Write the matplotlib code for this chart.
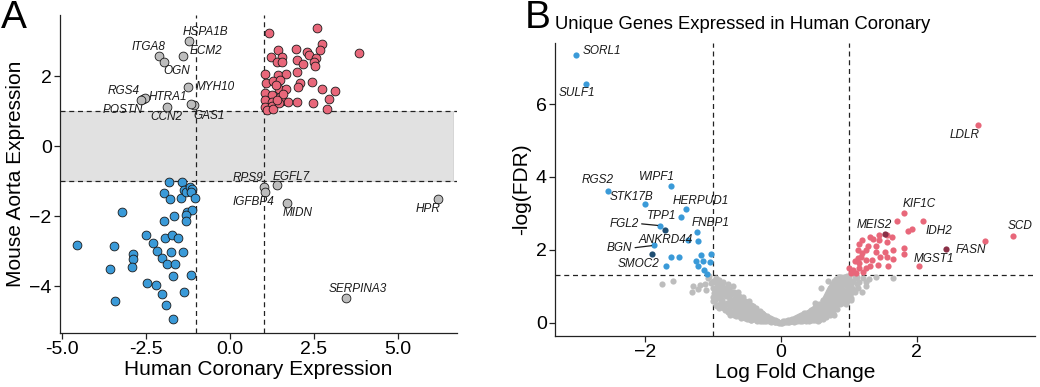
import matplotlib
matplotlib.use("Agg")
import matplotlib.pyplot as plt

plt.rcParams['font.family'] = ['Liberation Sans', 'DejaVu Sans']

# ---------------- Panel A data ----------------
a_blue_x = [-4.54, -3.46, -3.58, -3.41, -3.22, -2.90, -2.90, -2.92, -2.50, -2.30, -2.16,
            -2.46, -2.19, -2.01, -1.88, -2.01, -1.90, -1.70, -1.96, -1.94, -1.73, -1.55,
            -1.76, -1.39, -1.64, -1.71, -1.38, -1.15, -1.95, -1.79, -1.81, -1.68, -1.46,
            -1.42, -1.37, -1.32, -1.19, -1.14, -1.17, -1.05, -1.29, -1.13, -1.31, -1.32]
a_blue_y = [-2.84, -2.86, -3.51, -4.42, -1.89, -3.09, -3.22, -3.45, -2.55, -2.76, -3.01,
            -3.90, -3.97, -3.20, -3.36, -4.24, -4.53, -4.94, -2.13, -2.62, -2.54, -2.62,
            -3.02, -3.02, -3.36, -3.70, -4.17, -3.68, -1.33, -1.50, -1.03, -2.00, -1.47,
            -1.03, -1.26, -1.32, -1.16, -1.23, -1.30, -1.47, -1.87, -1.82, -1.98, -2.15]

a_red_x = [1.16, 2.60, 3.83, 1.42, 1.21, 1.54, 1.40, 1.55, 1.98, 2.30, 2.35, 2.74, 2.67,
           2.56, 2.50, 2.52, 2.00, 2.19, 1.03, 1.42, 1.67, 2.01, 1.07, 1.29, 1.49, 2.08,
           2.43, 2.02, 1.45, 1.67, 2.73, 3.13, 1.03, 1.26, 1.49, 2.94, 1.04, 1.25, 1.54,
           1.73, 2.01, 2.46, 1.03, 1.26, 1.11, 1.29, 1.46, 2.88, 1.37, 1.59, 1.39]
a_red_y = [3.22, 3.36, 2.67, 2.74, 2.55, 2.55, 2.40, 2.41, 2.78, 2.68, 2.61, 2.91, 2.74,
           2.52, 2.39, 2.29, 2.46, 2.35, 2.06, 2.02, 2.06, 2.11, 1.79, 1.86, 1.89, 1.81,
           1.84, 1.69, 1.64, 1.62, 1.62, 1.58, 1.52, 1.46, 1.41, 1.34, 1.31, 1.27, 1.29,
           1.26, 1.27, 1.24, 1.12, 1.15, 1.03, 1.05, 1.22, 1.06, 1.74, 1.50, 1.31]

a_grey_genes = ['HSPA1B', 'ITGA8', 'ECM2', 'OGN', 'MYH10', 'RGS4', 'HTRA1', 'POSTN',
                'CCN2', 'GAS1', '', 'RPS9', 'EGFL7', 'IGFBP4', 'MIDN', 'HPR', 'SERPINA3']
a_grey_x = [-1.22, -2.10, -1.39, -1.97, -1.24, -2.58, -2.52, -2.65,
            -1.86, -1.07, -1.17, 1.00, 1.40, 1.04, 1.69, 6.20, 3.46]
a_grey_y = [3.01, 2.58, 2.58, 2.41, 1.68, 1.33, 1.36, 1.31,
            1.12, 1.16, 1.20, -1.16, -1.11, -1.30, -1.62, -1.51, -4.34]

a_x_ticks = [-5.0, -2.5, 0.0, 2.5, 5.0]
a_y_ticks = [-4, -2, 0, 2]

# ---------------- Panel B data ----------------
b_blue_genes = ['SORL1', 'SULF1', 'RGS2', 'STK17B', 'WIPF1', 'HERPUD1', 'TPP1', 'FGL2',
                'FNBP1', 'ANKRD44', 'BGN', '', '', '', '', '', '', '', '', '', '', '', '']
b_blue_x = [-3.01, -2.86, -2.54, -1.99, -1.62, -1.39, -1.47, -1.77, -1.23, -1.36, -1.86,
            -1.22, -1.68, -1.61, -1.50, -1.24, -1.17, -1.15, -1.03, -1.04, -1.21, -1.13, -1.08]
b_blue_y = [7.35, 6.56, 3.62, 3.25, 3.76, 3.13, 2.90, 2.66, 2.48, 2.26, 2.12,
            2.25, 1.56, 1.79, 1.79, 1.70, 1.85, 1.68, 1.89, 1.67, 1.54, 1.43, 1.34]

b_darkblue_genes = ['', 'SMOC2']
b_darkblue_x = [-1.70, -1.89]
b_darkblue_y = [2.55, 1.87]

b_red_genes = ['LDLR', 'KIF1C', '', 'IDH2', '', '', 'SCD', 'FASN', '']
b_red_x = [2.90, 1.81, 1.71, 2.10, 1.88, 1.94, 3.42, 3.00, 2.04]
b_red_y = [5.42, 3.00, 2.80, 2.80, 2.52, 2.57, 2.39, 2.24, 1.54]
b_red_cluster_x = [1.15, 1.20, 1.31, 1.36, 1.44, 1.44, 1.56, 1.64, 1.56, 1.65, 1.82, 1.82,
                   1.25, 1.14, 1.40, 1.54, 1.14, 1.18, 1.26, 1.35, 1.46, 1.56, 1.65, 1.09,
                   1.01, 1.06, 1.16, 1.26, 1.43, 1.58, 1.04, 1.11, 1.21, 1.16, 1.31, 1.28,
                   1.41, 1.19]
b_red_cluster_y = [2.16, 2.27, 2.35, 2.29, 2.40, 2.27, 2.41, 2.35, 2.20, 2.00, 2.05, 1.89,
                   2.00, 2.00, 1.95, 1.95, 1.76, 1.80, 1.72, 1.72, 1.81, 1.81, 1.74, 1.68,
                   1.49, 1.45, 1.49, 1.49, 1.59, 1.54, 1.36, 1.36, 1.40, 1.63, 1.54, 2.09,
                   2.09, 1.91]

b_darkred_genes = ['MEIS2', 'MGST1']
b_darkred_x = [1.54, 2.44]
b_darkred_y = [2.44, 2.02]

# non-significant genes (x = log fold change, y = -log FDR), read off the cloud
b_grey_points = [
    (-1.75, 1.05), (-1.58, 1.15), (-1.31, 0.83), (-1.29, 0.99), (-1.22, 0.92), (-1.19, 1.04),
    (-1.12, 1.05), (-1.10, 0.90), (-1.07, 1.22), (-1.05, 1.28), (-1.02, 1.08), (-1.00, 0.58),
    (-0.98, 0.80), (-0.95, 1.22), (-0.95, 0.49), (-0.95, 0.95), (-0.92, 0.70), (-0.92, 1.05),
    (-0.90, 1.17), (-0.90, 0.40), (-0.88, 0.60), (-0.88, 0.75), (-0.86, 0.85), (-0.85, 1.10),
    (-0.84, 0.95), (-0.82, 0.35), (-0.82, 0.52), (-0.80, 0.72), (-0.80, 0.95), (-0.78, 1.05),
    (-0.77, 0.28), (-0.75, 0.21), (-0.75, 0.45), (-0.74, 0.62), (-0.72, 0.85), (-0.72, 0.60),
    (-0.70, 0.99), (-0.70, 0.30), (-0.68, 0.50), (-0.66, 0.72), (-0.66, 0.28), (-0.65, 0.18),
    (-0.63, 0.85), (-0.62, 0.38), (-0.60, 0.58), (-0.60, 0.35), (-0.58, 0.12), (-0.57, 0.25),
    (-0.55, 0.71), (-0.55, 0.45), (-0.53, 0.32), (-0.52, 0.20), (-0.50, 0.10), (-0.50, 0.55),
    (-0.48, 0.20), (-0.46, 0.58), (-0.46, 0.38), (-0.44, 0.08), (-0.44, 0.30), (-0.42, 0.28),
    (-0.40, 0.45), (-0.38, 0.15), (-0.38, 0.18), (-0.36, 0.40), (-0.35, 0.05), (-0.33, 0.25),
    (-0.32, 0.10), (-0.30, 0.33), (-0.30, 0.10), (-0.27, 0.04), (-0.26, 0.23), (-0.24, 0.15),
    (-0.22, 0.03), (-0.22, 0.10), (-0.20, 0.18), (-0.18, 0.08), (-0.16, 0.12), (-0.14, 0.02),
    (-0.12, 0.07), (-0.10, 0.04), (-0.08, 0.01), (-0.06, 0.03), (-0.04, 0.01), (-0.02, 0.00),
    (0.00, 0.00), (0.02, 0.00), (0.05, 0.01), (0.08, 0.02), (0.10, 0.04), (0.13, 0.01),
    (0.15, 0.05), (0.18, 0.08), (0.20, 0.02), (0.23, 0.07), (0.25, 0.12), (0.28, 0.03),
    (0.30, 0.15), (0.30, 0.20), (0.32, 0.08), (0.35, 0.18), (0.37, 0.05), (0.40, 0.22),
    (0.40, 0.12), (0.42, 0.28), (0.43, 0.28), (0.45, 0.08), (0.46, 0.18), (0.48, 0.32),
    (0.50, 0.12), (0.50, 0.55), (0.52, 0.25), (0.53, 0.40), (0.55, 0.05), (0.56, 0.18),
    (0.58, 0.48), (0.58, 0.32), (0.60, 0.12), (0.60, 0.95), (0.62, 0.40), (0.62, 0.58),
    (0.64, 0.25), (0.65, 0.68), (0.66, 0.15), (0.66, 0.62), (0.68, 0.50), (0.68, 0.78),
    (0.70, 0.35), (0.70, 1.15), (0.71, 0.88), (0.72, 0.62), (0.73, 0.20), (0.74, 0.98),
    (0.74, 0.40), (0.75, 0.45), (0.76, 0.75), (0.77, 1.05), (0.77, 0.26), (0.78, 0.55),
    (0.79, 0.21), (0.80, 0.88), (0.80, 0.70), (0.81, 1.12), (0.82, 0.65), (0.83, 0.38),
    (0.84, 1.00), (0.85, 0.80), (0.86, 1.20), (0.86, 1.25), (0.87, 0.50), (0.89, 1.26),
    (0.90, 0.92), (0.91, 0.62), (0.92, 1.10), (0.93, 0.70), (0.94, 1.17), (0.95, 0.75),
    (0.96, 0.52), (0.98, 1.00), (0.99, 0.70), (1.01, 0.85), (1.01, 1.22), (1.03, 0.62),
    (1.04, 0.67), (1.05, 1.10), (1.09, 0.85), (1.10, 1.28), (1.11, 1.22), (1.14, 0.94),
    (1.19, 0.85), (1.21, 1.22), (1.26, 1.12), (1.26, 0.99), (1.30, 1.20), (1.41, 1.26),
    (1.65, 1.21),
    (-1.00, 0.70), (-1.00, 0.95), (-1.00, 1.15), (-0.97, 0.62), (-0.97, 0.88), (-0.97, 1.12),
    (-0.93, 0.45), (-0.93, 0.82), (-0.93, 1.00), (-0.89, 0.50), (-0.89, 0.68), (-0.89, 0.92),
    (-0.86, 0.42), (-0.86, 0.62), (-0.86, 1.02), (-0.83, 0.40), (-0.83, 0.78), (-0.83, 0.90),
    (-0.79, 0.35), (-0.79, 0.55), (-0.79, 0.85), (-0.76, 0.38), (-0.76, 0.70), (-0.76, 0.92),
    (-0.73, 0.25), (-0.73, 0.50), (-0.73, 0.78), (-0.69, 0.22), (-0.69, 0.42), (-0.69, 0.65),
    (-0.69, 0.85), (-0.67, 0.35), (-0.67, 0.58), (-0.67, 0.80), (-0.64, 0.22), (-0.64, 0.48),
    (-0.64, 0.65), (-0.61, 0.18), (-0.61, 0.30), (-0.61, 0.50), (-0.61, 0.72), (-0.58, 0.22),
    (-0.58, 0.40), (-0.58, 0.62), (-0.56, 0.15), (-0.56, 0.35), (-0.56, 0.55), (-0.52, 0.12),
    (-0.52, 0.28), (-0.52, 0.45), (-0.52, 0.60), (-0.49, 0.15), (-0.49, 0.35), (-0.49, 0.48),
    (-0.47, 0.10), (-0.47, 0.25), (-0.47, 0.45), (-0.43, 0.08), (-0.43, 0.18), (-0.43, 0.35),
    (-0.43, 0.48), (-0.41, 0.12), (-0.41, 0.22), (-0.41, 0.38), (-0.37, 0.06), (-0.37, 0.22),
    (-0.37, 0.32), (-0.34, 0.10), (-0.34, 0.18), (-0.34, 0.30), (-0.31, 0.05), (-0.31, 0.15),
    (-0.31, 0.25), (-0.28, 0.08), (-0.28, 0.18), (-0.28, 0.25), (-0.25, 0.05), (-0.25, 0.10),
    (-0.25, 0.20), (-0.21, 0.06), (-0.21, 0.12), (-0.17, 0.03), (-0.17, 0.13), (-0.13, 0.05),
    (-0.13, 0.09), (-0.09, 0.02), (-0.09, 0.06), (-0.05, 0.02), (0.04, 0.03), (0.07, 0.04),
    (0.11, 0.02), (0.11, 0.06), (0.14, 0.03), (0.14, 0.08), (0.17, 0.04), (0.17, 0.10),
    (0.21, 0.05), (0.21, 0.12), (0.24, 0.03), (0.24, 0.09), (0.24, 0.15), (0.27, 0.06),
    (0.27, 0.13), (0.27, 0.18), (0.31, 0.04), (0.31, 0.10), (0.31, 0.22), (0.34, 0.06),
    (0.34, 0.12), (0.34, 0.25), (0.38, 0.09), (0.38, 0.16), (0.38, 0.25), (0.41, 0.05),
    (0.41, 0.18), (0.41, 0.30), (0.44, 0.12), (0.44, 0.22), (0.44, 0.35), (0.47, 0.06),
    (0.47, 0.25), (0.47, 0.38), (0.51, 0.08), (0.51, 0.18), (0.51, 0.30), (0.51, 0.42),
    (0.54, 0.10), (0.54, 0.28), (0.54, 0.45), (0.57, 0.08), (0.57, 0.22), (0.57, 0.38),
    (0.57, 0.52), (0.61, 0.20), (0.61, 0.30), (0.61, 0.50), (0.63, 0.10), (0.63, 0.35),
    (0.63, 0.62), (0.67, 0.22), (0.67, 0.42), (0.67, 0.58), (0.67, 0.72), (0.69, 0.28),
    (0.69, 0.65), (0.69, 0.85), (0.72, 0.30), (0.72, 0.48), (0.72, 0.75), (0.72, 0.95),
    (0.75, 0.35), (0.75, 0.60), (0.75, 0.88), (0.75, 1.05), (0.78, 0.40), (0.78, 0.68),
    (0.78, 0.82), (0.78, 1.15), (0.81, 0.45), (0.81, 0.55), (0.81, 0.95), (0.81, 1.20),
    (0.84, 0.55), (0.84, 0.70), (0.84, 0.88), (0.84, 1.12), (0.87, 0.60), (0.87, 0.78),
    (0.87, 1.05), (0.87, 1.22), (0.90, 0.55), (0.90, 0.72), (0.90, 1.02), (0.90, 1.18),
    (0.93, 0.62), (0.93, 0.85), (0.93, 1.25), (0.97, 0.60), (0.97, 0.90), (0.97, 1.15),
    (0.97, 1.28), (1.00, 0.75), (1.00, 0.95), (1.00, 1.12), (1.03, 0.80), (1.03, 1.00),
    (1.07, 0.92), (1.07, 1.15), (1.12, 1.05), (1.12, 1.25), (1.16, 1.10),
]

b_x_ticks = [-2, 0, 2]
b_y_ticks = [0, 2, 4, 6]

# ---------------- label offsets (points) ----------------
a_offsets = {'HSPA1B': (12, 6.3), 'ITGA8': (-8, 6.5), 'ECM2': (16.5, 3.5), 'OGN': (9, -6.8),
             'MYH10': (19.5, 0), 'RGS4': (-14, 6), 'HTRA1': (16.5, 1), 'POSTN': (-13, -7),
             'CCN2': (-1, -7.5), 'GAS1': (11, -7.5), 'RPS9': (-11.5, 6), 'EGFL7': (10, 6),
             'IGFBP4': (-8, -7.5), 'MIDN': (8, -7.5), 'HPR': (-7.5, -7.5),
             'SERPINA3': (8.5, 6.5)}
b_offsets = {'SORL1': (18.4, 3), 'SULF1': (-6.7, -6.7), 'RGS2': (-7.5, 7.5),
             'STK17B': (-9.7, 5.5), 'WIPF1': (-10, 6), 'HERPUD1': (10.6, 5.8),
             'TPP1': (-13.7, 0.7), 'FGL2': (-26, 1.5), 'FNBP1': (9.6, 7),
             'ANKRD44': (-16.5, 0.5), 'BGN': (-25, -1.9), 'SMOC2': (-10, -6.7),
             'LDLR': (-9.6, -7), 'KIF1C': (11, 6.5), 'IDH2': (11.3, -7.4),
             'MEIS2': (-7.7, 6.3), 'SCD': (5, 6.5), 'FASN': (-10, -6.3), 'MGST1': (-9.4, -7.2)}
b_line_labels = ['FGL2', 'BGN']

BLUE = '#3a9ad8'
RED = '#e8677a'
GREY = '#bdbdbd'
DARKBLUE = '#1f4e72'
DARKRED = '#8a2f46'

fig = plt.figure(figsize=(10.4, 3.87), dpi=100)

def style_axes(ax):
    for s in ['top', 'right']:
        ax.spines[s].set_visible(False)
    for s in ['left', 'bottom']:
        ax.spines[s].set_linewidth(0.9)
        ax.spines[s].set_color('#222222')
    ax.tick_params(axis='both', labelsize=14, length=4, width=0.9, color='#222222',
                   labelcolor='black', pad=2)

# ---------- Panel A ----------
axA = fig.add_axes([0.0577, 0.1395, 0.3817, 0.8215])
style_axes(axA)
axA.set_xlim(-5.06, 6.76)
axA.set_ylim(-5.34, 3.74)
axA.axhspan(-1, 1, xmin=0, xmax=(6.64 + 5.06) / (6.76 + 5.06), facecolor='#e1e1e1',
            edgecolor='#cccccc', lw=0.5, zorder=0)
dash = dict(color='#222222', lw=0.9, linestyle=(0, (4, 3)), zorder=1)
axA.axhline(1, **dash)
axA.axhline(-1, **dash)
axA.axvline(-1, **dash)
axA.axvline(1, **dash)
ms = 40
axA.scatter(a_blue_x, a_blue_y, s=ms, c=BLUE, edgecolors='#1a1a1a', linewidths=0.6, zorder=3)
axA.scatter(a_red_x, a_red_y, s=ms, c=RED, edgecolors='#1a1a1a', linewidths=0.6, zorder=3)
axA.scatter(a_grey_x, a_grey_y, s=ms, c=GREY, edgecolors='#1a1a1a', linewidths=0.6, zorder=3)
for g, x, y in zip(a_grey_genes, a_grey_x, a_grey_y):
    if g:
        axA.annotate(g, (x, y), xytext=a_offsets[g], textcoords='offset points',
                     ha='center', va='center', fontsize=8.5, style='italic',
                     color='#1a1a1a', zorder=4)
axA.set_xticks(a_x_ticks)
axA.set_xticklabels([f'{t:.1f}' for t in a_x_ticks])
axA.set_yticks(a_y_ticks)
axA.set_xlabel('Human Coronary Expression', fontsize=15, labelpad=1)
axA.set_ylabel('Mouse Aorta Expression', fontsize=15, labelpad=3)
fig.text(0.001, 1.0, 'A', fontsize=28, ha='left', va='top')

# ---------- Panel B ----------
axB = fig.add_axes([0.5337, 0.1318, 0.4613, 0.7572])
style_axes(axB)
axB.set_xlim(-3.32, 3.74)
axB.set_ylim(-0.37, 7.68)
axB.axhline(1.301, **dash)
axB.axvline(-1, **dash)
axB.axvline(1, **dash)
ms2 = 20
b_grey_x = [p[0] for p in b_grey_points]
b_grey_y = [p[1] for p in b_grey_points]
axB.scatter(b_grey_x, b_grey_y, s=ms2, c=GREY, linewidths=0, zorder=2)
axB.scatter(b_blue_x, b_blue_y, s=ms2, c=BLUE, linewidths=0, zorder=3)
axB.scatter(b_red_x, b_red_y, s=ms2, c=RED, linewidths=0, zorder=3)
axB.scatter(b_red_cluster_x, b_red_cluster_y, s=ms2, c=RED, linewidths=0, zorder=3)
axB.scatter(b_darkblue_x, b_darkblue_y, s=ms2, c=DARKBLUE, linewidths=0, zorder=3)
axB.scatter(b_darkred_x, b_darkred_y, s=ms2, c=DARKRED, linewidths=0, zorder=3)
for genes, xs, ys in [(b_blue_genes, b_blue_x, b_blue_y), (b_darkblue_genes, b_darkblue_x, b_darkblue_y),
                      (b_red_genes, b_red_x, b_red_y), (b_darkred_genes, b_darkred_x, b_darkred_y)]:
    for g, x, y in zip(genes, xs, ys):
        if not g:
            continue
        kw = {}
        if g in b_line_labels:
            kw['arrowprops'] = dict(arrowstyle='-', color='#1a1a1a', lw=0.9,
                                    relpos=(1.0, 0.5), shrinkA=0, shrinkB=2)
        axB.annotate(g, (x, y), xytext=b_offsets[g], textcoords='offset points',
                     ha='center', va='center', fontsize=8.5, style='italic',
                     color='#1a1a1a', zorder=4, **kw)
axB.set_xticks(b_x_ticks)
axB.set_yticks(b_y_ticks)
axB.set_xlabel('Log Fold Change', fontsize=15, labelpad=1)
axB.set_ylabel('-log(FDR)', fontsize=15, labelpad=3)
axB.set_title('Unique Genes Expressed in Human Coronary', fontsize=13.3, loc='left', pad=10)
fig.text(0.505, 1.0, 'B', fontsize=28, ha='left', va='top')

fig.savefig('out.png', dpi=100)
